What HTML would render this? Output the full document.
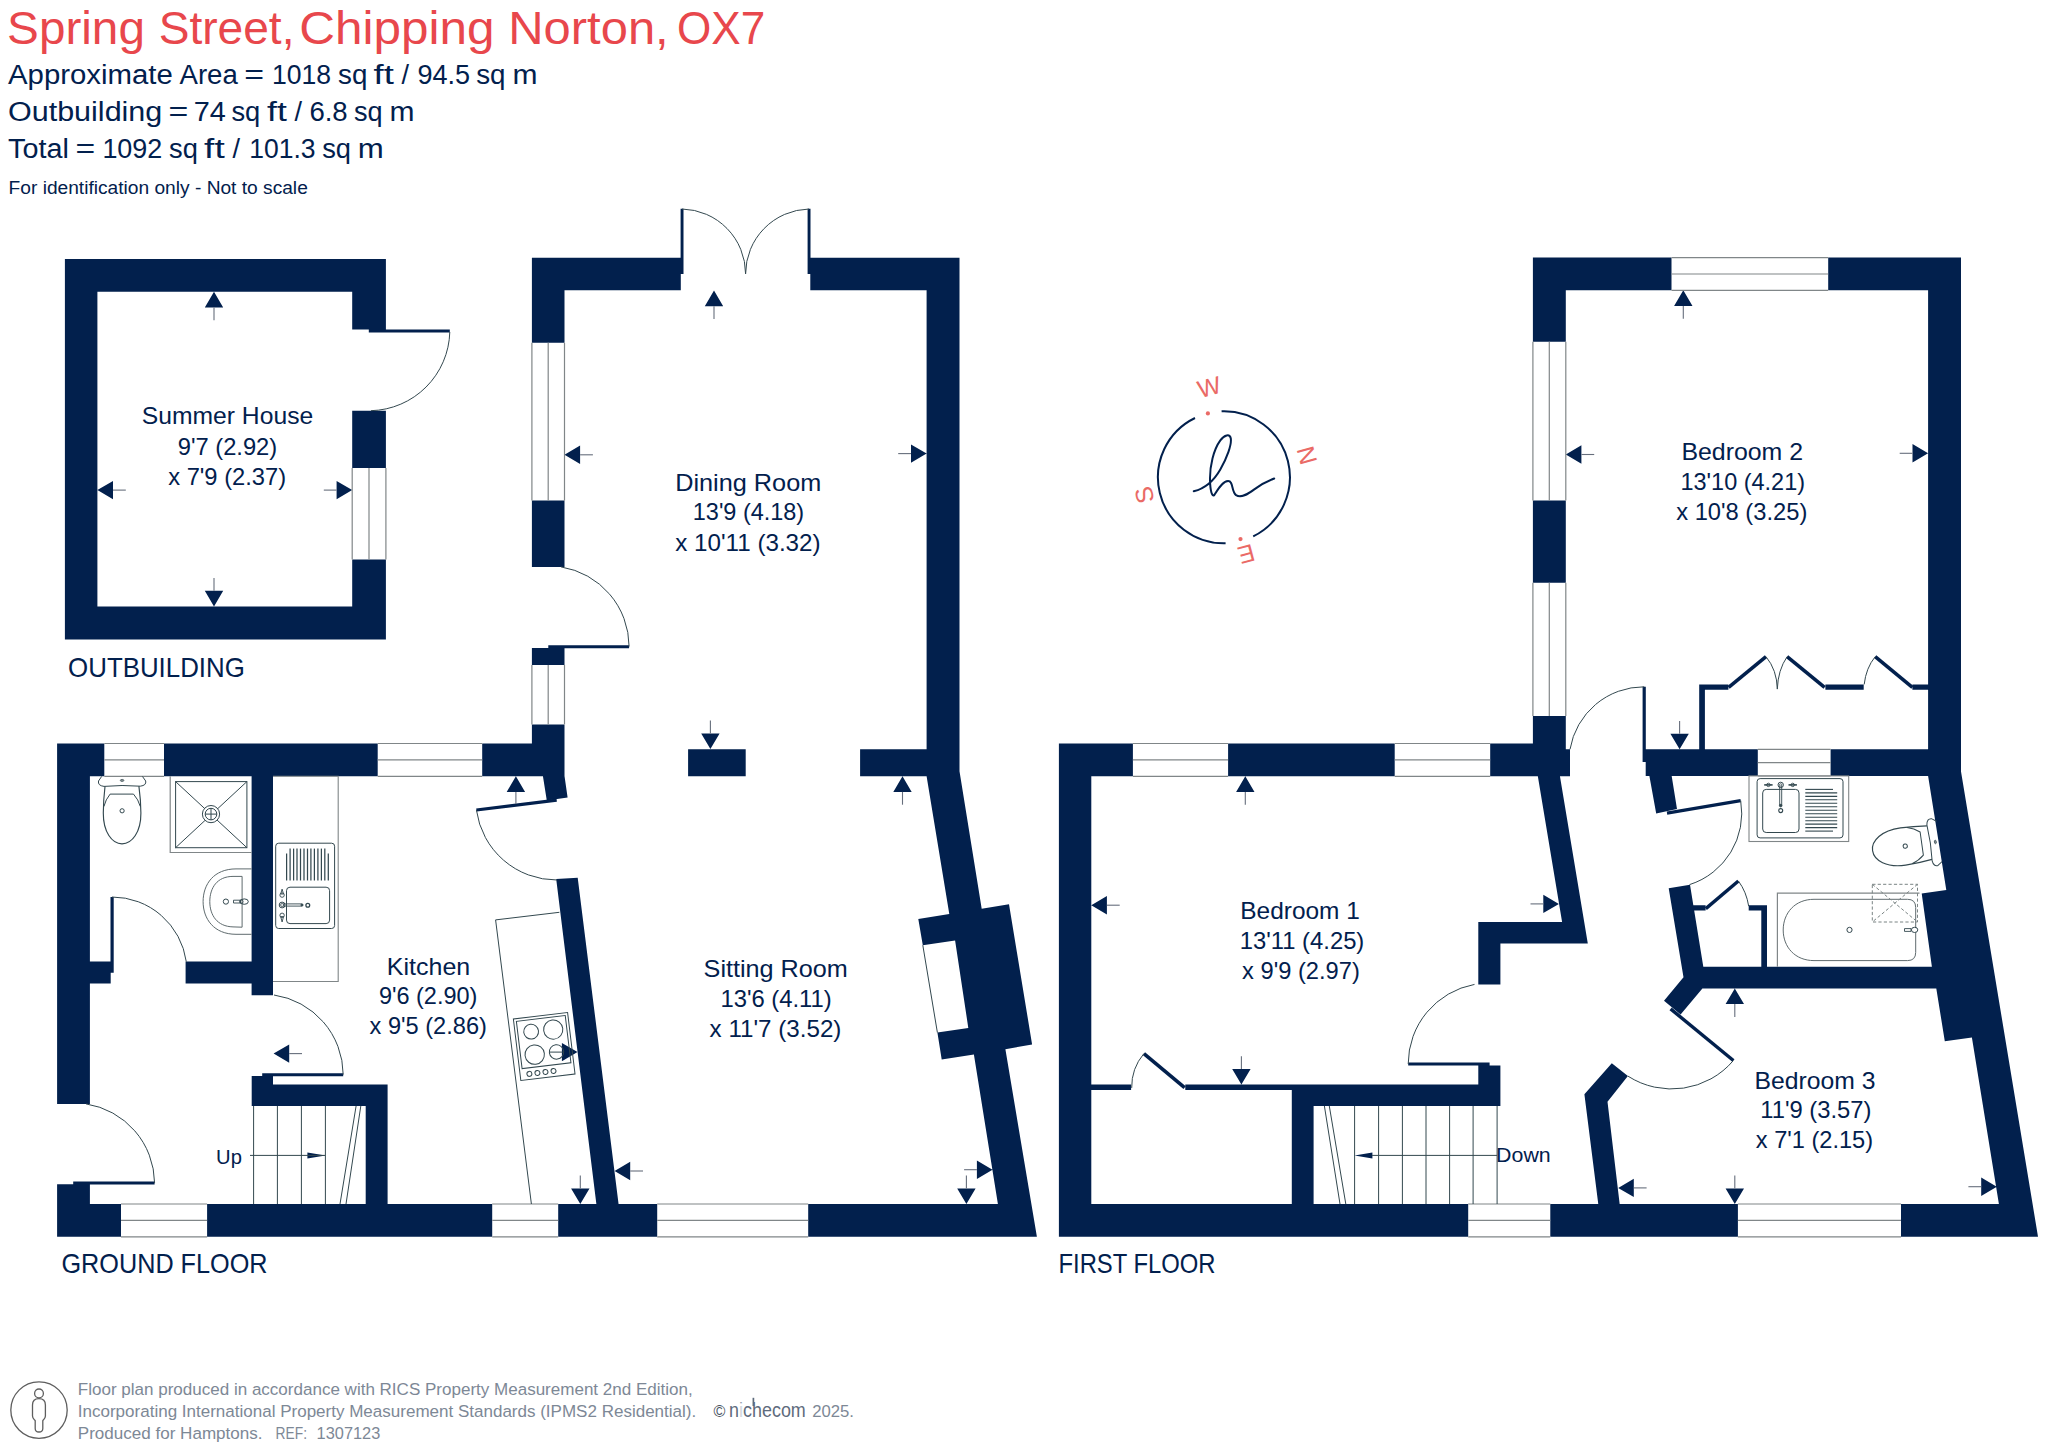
<!DOCTYPE html>
<html lang="en"><head><meta charset="utf-8"><title>Spring Street, Chipping Norton, OX7 - Floor plan</title>
<style>
html,body{margin:0;padding:0;background:#fff;}
body{width:2048px;height:1447px;overflow:hidden;}
svg{display:block;font-family:"Liberation Sans",sans-serif;}
</style></head><body>
<svg width="2048" height="1447" viewBox="0 0 2048 1447">
<rect width="2048" height="1447" fill="#ffffff"/>
<path d="M64.9 259.1L385.9 259.1L385.9 291.8L64.9 291.8ZM64.9 259.1L97.4 259.1L97.4 639.5L64.9 639.5ZM64.9 606.4L385.9 606.4L385.9 639.5L64.9 639.5ZM352.2 259.1L385.9 259.1L385.9 329.6L352.2 329.6ZM352.2 410.7L385.9 410.7L385.9 467.9L352.2 467.9ZM352.2 559.4L385.9 559.4L385.9 639.5L352.2 639.5ZM368.8 329.6L449.8 329.6L449.8 332.6L368.8 332.6ZM223.2 307.4L204.8 307.4L214 291.8ZM214 606.4L204.8 590.8L223.2 590.8ZM97.4 490.1L113 480.9L113 499.3ZM336.6 499.3L336.6 480.9L352.2 490.1ZM531.9 257.7L680.8 257.7L680.8 290.3L531.9 290.3ZM810.3 257.7L959.5 257.7L959.5 290.3L810.3 290.3ZM680.6 208.8L683.5 208.8L683.5 273.9L680.6 273.9ZM807.6 208.8L810.5 208.8L810.5 273.9L807.6 273.9ZM531.9 257.7L564.5 257.7L564.5 342.7L531.9 342.7ZM531.9 500.6L564.5 500.6L564.5 566.9L531.9 566.9ZM548.3 645.2L629.1 645.2L629.1 648.2L548.3 648.2ZM531.9 648L564.5 648L564.5 664.9L531.9 664.9ZM531.9 724.4L564.5 724.4L564.5 776.3L531.9 776.3ZM688.1 749.3L745.7 749.3L745.7 776.2L688.1 776.2ZM710.4 749L701.2 733.4L719.6 733.4ZM723.2 306.2L704.8 306.2L714 290.6ZM564.5 454.8L580.1 445.6L580.1 464ZM911 462.8L911 444.4L926.6 453.6ZM57.1 743.5L104.3 743.5L104.3 776.3L57.1 776.3ZM164 743.5L377.7 743.5L377.7 776.3L164 776.3ZM482.2 743.5L564.5 743.5L564.5 776.3L482.2 776.3ZM542.9 776L564.5 776L567.6 797.6L546.8 800.4ZM556.2 879.1L577.7 877.7L618.6 1204.2L596.4 1204.2ZM57.1 743.5L89.9 743.5L89.9 1103.9L57.1 1103.9ZM57.1 1184.3L89.9 1184.3L89.9 1236.8L57.1 1236.8ZM73.2 1181.6L154.6 1181.6L154.6 1184.6L73.2 1184.6ZM57.1 1204L121 1204L121 1236.8L57.1 1236.8ZM207.1 1204L492.2 1204L492.2 1236.8L207.1 1236.8ZM558.2 1204L657.2 1204L657.2 1236.8L558.2 1236.8ZM926.6 257.7L959.5 257.7L959.5 771.3L981.7 908.8L1009 904.3L1032.1 1044.4L1005.4 1049.3L1036.9 1236.8L808.2 1236.8L808.2 1204L997.9 1204L973.9 1054.6L941.7 1059.6L937.4 1032.6L968.3 1027.9L955.1 940.5L922.8 945.2L918.3 919L949.3 914.1L926.6 776.3ZM860.1 749.3L927 749.3L927 776.2L860.1 776.2ZM251.6 776L273 776L273 995.3L251.6 995.3ZM185.6 961.5L251.8 961.5L251.8 983.4L185.6 983.4ZM89.9 961.5L110.7 961.5L110.7 983.4L89.9 983.4ZM110.5 897L113.7 897L113.7 972.7L110.5 972.7ZM251.7 1076L273 1076L273 1106.1L251.7 1106.1ZM251.7 1084.6L387.6 1084.6L387.6 1106.1L251.7 1106.1ZM365.7 1084.6L387.6 1084.6L387.6 1204.2L365.7 1204.2ZM262.2 1073.2L343.2 1073.2L343.2 1076.2L262.2 1076.2ZM307.4 1158.4L307.4 1152.4L325.4 1155.4ZM525.1 791.9L506.7 791.9L515.9 776.3ZM273.6 1053.6L289.2 1044.4L289.2 1062.8ZM580.3 1204L571.1 1188.4L589.5 1188.4ZM614.6 1171L630.2 1161.8L630.2 1180.2ZM561.9 1061.3L561.9 1042.9L577.5 1052.1ZM911.7 791.9L893.3 791.9L902.5 776.3ZM976.9 1178.9L976.9 1160.5L992.5 1169.7ZM966.4 1204L957.2 1188.4L975.6 1188.4ZM1058.9 743.5L1132.9 743.5L1132.9 776.3L1058.9 776.3ZM1228.1 743.5L1394.7 743.5L1394.7 776.3L1228.1 776.3ZM1490.2 743.5L1565.8 743.5L1565.8 776.3L1490.2 776.3ZM1565 749.3L1570 749.3L1570 776.3L1565 776.3ZM1058.9 743.5L1091.3 743.5L1091.3 1236.8L1058.9 1236.8ZM1058.9 1204L1468.2 1204L1468.2 1236.8L1058.9 1236.8ZM1550.3 1204L1737.9 1204L1737.9 1236.8L1550.3 1236.8ZM1532.9 257.6L1671.5 257.6L1671.5 290.3L1532.9 290.3ZM1828.2 257.6L1961 257.6L1961 290.3L1828.2 290.3ZM1532.9 257.6L1565.8 257.6L1565.8 341.7L1532.9 341.7ZM1532.9 500.5L1565.8 500.5L1565.8 582.7L1532.9 582.7ZM1532.9 716.1L1565.8 716.1L1565.8 776.3L1532.9 776.3ZM1928.1 257.6L1961 257.6L1961 771.4L2038 1236.8L1901 1236.8L1901 1204L1998.9 1204L1971.9 1037.5L1944.8 1041.2L1936.3 988.5L1931.9 966.7L1921.7 893.6L1946.3 890L1928.1 776ZM1645.7 749.3L1757.8 749.3L1757.8 776L1645.7 776ZM1830.6 749.3L1929 749.3L1929 776L1830.6 776ZM1642.6 686.8L1645.8 686.8L1645.8 762L1642.6 762ZM1649.3 775.5L1671.6 775.5L1677 809L1656.2 813.6ZM1668.7 888.2L1690 884.7L1703.3 966.7L1932 966.7L1936.4 988.5L1702.4 988.5L1680.6 1014.5L1664 1000.7L1683.5 977.3ZM1537.8 776L1559.9 776L1587.8 943.4L1500.4 943.4L1500.4 984.4L1478.3 984.4L1478.3 921.9L1562.1 921.9ZM1408.2 1062.5L1489.6 1062.5L1489.6 1065.5L1408.2 1065.5ZM1478.3 1065.4L1500.4 1065.4L1500.4 1106.1L1478.3 1106.1ZM1291.8 1084.6L1500.4 1084.6L1500.4 1106.1L1291.8 1106.1ZM1291.8 1084.6L1313.6 1084.6L1313.6 1204.2L1291.8 1204.2ZM1091 1084.6L1131.1 1084.6L1131.1 1090L1091 1090ZM1185.3 1084.6L1292 1084.6L1292 1090L1185.3 1090ZM1354.6 1155.4L1372.4 1152.4L1372.4 1158.4ZM1611.8 1063.2L1627.9 1076.1L1607.5 1101.8L1619.7 1204.2L1598.3 1204.2L1584.4 1094.3ZM1699.2 684.4L1704.9 684.4L1704.9 749.5L1699.2 749.5ZM1699.2 684.4L1728.4 684.4L1728.4 689.8L1699.2 689.8ZM1825.4 684.4L1863.7 684.4L1863.7 689.8L1825.4 689.8ZM1912.4 684.4L1928.5 684.4L1928.5 689.8L1912.4 689.8ZM1693 905.3L1705.6 905.3L1705.6 910.4L1693 910.4ZM1748.7 905.3L1767 905.3L1767 910.4L1748.7 910.4ZM1761.3 905.3L1767 905.3L1767 966.8L1761.3 966.8ZM1254.5 791.9L1236.1 791.9L1245.3 776.3ZM1091.3 905.2L1106.9 896L1106.9 914.4ZM1543.3 913.1L1543.3 894.7L1558.9 903.9ZM1241.4 1084.6L1232.2 1069L1250.6 1069ZM1692.5 305.9L1674.1 305.9L1683.3 290.3ZM1565.8 454.5L1581.4 445.3L1581.4 463.7ZM1912.5 462.5L1912.5 444.1L1928.1 453.3ZM1679.6 749.3L1670.4 733.7L1688.8 733.7ZM1744 1004.1L1725.6 1004.1L1734.8 988.5ZM1734.8 1204L1725.6 1188.4L1744 1188.4ZM1981.2 1195.9L1981.2 1177.5L1996.8 1186.7ZM1618.2 1187.9L1633.8 1178.7L1633.8 1197.1Z" fill="#02204d" fill-rule="nonzero"/>
<text y="43.8" font-size="46" fill="#e8474c"><tspan x="7.1" textLength="137.8" lengthAdjust="spacingAndGlyphs">Spring</tspan> <tspan x="158.7" textLength="135.8" lengthAdjust="spacingAndGlyphs">Street,</tspan> <tspan x="299.3" textLength="195.2" lengthAdjust="spacingAndGlyphs">Chipping</tspan> <tspan x="508.3" textLength="160.4" lengthAdjust="spacingAndGlyphs">Norton,</tspan> <tspan x="677" textLength="88.2" lengthAdjust="spacingAndGlyphs">OX7</tspan></text>
<text y="84.2" font-size="27" fill="#02204d"><tspan x="8" textLength="164.7" lengthAdjust="spacingAndGlyphs">Approximate</tspan> <tspan x="179.5" textLength="58.3" lengthAdjust="spacingAndGlyphs">Area</tspan> <tspan x="244.3" textLength="19.8" lengthAdjust="spacingAndGlyphs">=</tspan> <tspan x="271.9" textLength="59.1" lengthAdjust="spacingAndGlyphs">1018</tspan> <tspan x="338.1" textLength="29.3" lengthAdjust="spacingAndGlyphs">sq</tspan> <tspan x="373.6" textLength="20.3" lengthAdjust="spacingAndGlyphs">ft</tspan> <tspan x="401.6">/</tspan> <tspan x="417.4" textLength="52.6" lengthAdjust="spacingAndGlyphs">94.5</tspan> <tspan x="476.2" textLength="29.3" lengthAdjust="spacingAndGlyphs">sq</tspan> <tspan x="512.5" textLength="25" lengthAdjust="spacingAndGlyphs">m</tspan></text>
<text y="120.9" font-size="27" fill="#02204d"><tspan x="8" textLength="154.3" lengthAdjust="spacingAndGlyphs">Outbuilding</tspan> <tspan x="168.5" textLength="19.8" lengthAdjust="spacingAndGlyphs">=</tspan> <tspan x="193.7" textLength="32.1" lengthAdjust="spacingAndGlyphs">74</tspan> <tspan x="231.4" textLength="28.8" lengthAdjust="spacingAndGlyphs">sq</tspan> <tspan x="267" textLength="19.8" lengthAdjust="spacingAndGlyphs">ft</tspan> <tspan x="294.6">/</tspan> <tspan x="309.4" textLength="38.3" lengthAdjust="spacingAndGlyphs">6.8</tspan> <tspan x="353.9" textLength="28.6" lengthAdjust="spacingAndGlyphs">sq</tspan> <tspan x="389.5" textLength="25" lengthAdjust="spacingAndGlyphs">m</tspan></text>
<text y="157.5" font-size="27" fill="#02204d"><tspan x="8" textLength="60.8" lengthAdjust="spacingAndGlyphs">Total</tspan> <tspan x="75.6" textLength="19.7" lengthAdjust="spacingAndGlyphs">=</tspan> <tspan x="102.4" textLength="59.9" lengthAdjust="spacingAndGlyphs">1092</tspan> <tspan x="169.1" textLength="28.8" lengthAdjust="spacingAndGlyphs">sq</tspan> <tspan x="204.1" textLength="20.6" lengthAdjust="spacingAndGlyphs">ft</tspan> <tspan x="232.5">/</tspan> <tspan x="249.2" textLength="66.3" lengthAdjust="spacingAndGlyphs">101.3</tspan> <tspan x="322.2" textLength="28.8" lengthAdjust="spacingAndGlyphs">sq</tspan> <tspan x="357.8" textLength="26" lengthAdjust="spacingAndGlyphs">m</tspan></text>
<text x="8.6" y="193.5" font-size="18.3" text-anchor="start" fill="#02204d" textLength="299.2" lengthAdjust="spacingAndGlyphs">For identification only - Not to scale</text>
<line x1="352.2" y1="467.9" x2="352.2" y2="559.4" stroke="#808688" stroke-width="1.2"/>
<line x1="369" y1="467.9" x2="369" y2="559.4" stroke="#808688" stroke-width="1.2"/>
<line x1="385.9" y1="467.9" x2="385.9" y2="559.4" stroke="#808688" stroke-width="1.2"/>
<path d="M449.8 332A81 81 0 0 1 371 410.7" fill="none" stroke="#33484f" stroke-width="1"/>
<line x1="214" y1="307.4" x2="214" y2="320.2" stroke="#666e7c" stroke-width="1.1"/>
<line x1="214" y1="590.8" x2="214" y2="578" stroke="#666e7c" stroke-width="1.1"/>
<line x1="113" y1="490.1" x2="125.8" y2="490.1" stroke="#666e7c" stroke-width="1.1"/>
<line x1="336.6" y1="490.1" x2="323.8" y2="490.1" stroke="#666e7c" stroke-width="1.1"/>
<text x="141.8" y="424.3" font-size="23.4" text-anchor="start" fill="#02204d" textLength="171.4" lengthAdjust="spacingAndGlyphs">Summer House</text>
<text x="177.8" y="454.8" font-size="23.4" text-anchor="start" fill="#02204d" textLength="99.4" lengthAdjust="spacingAndGlyphs">9'7 (2.92)</text>
<text x="168.2" y="485.3" font-size="23.4" text-anchor="start" fill="#02204d" textLength="117.9" lengthAdjust="spacingAndGlyphs">x 7'9 (2.37)</text>
<text x="68.1" y="677" font-size="27.5" text-anchor="start" fill="#02204d" textLength="176.7" lengthAdjust="spacingAndGlyphs">OUTBUILDING</text>
<path d="M682 209A65 65 0 0 1 745.6 273.9" fill="none" stroke="#33484f" stroke-width="1"/>
<path d="M809 209A65 65 0 0 0 745.6 273.9" fill="none" stroke="#33484f" stroke-width="1"/>
<line x1="531.9" y1="342.7" x2="531.9" y2="500.6" stroke="#808688" stroke-width="1.2"/>
<line x1="548.2" y1="342.7" x2="548.2" y2="500.6" stroke="#808688" stroke-width="1.2"/>
<line x1="564.5" y1="342.7" x2="564.5" y2="500.6" stroke="#808688" stroke-width="1.2"/>
<path d="M629.1 646.5A81 81 0 0 0 561 566.9" fill="none" stroke="#33484f" stroke-width="1"/>
<line x1="531.9" y1="664.9" x2="531.9" y2="724.4" stroke="#808688" stroke-width="1.2"/>
<line x1="548.2" y1="664.9" x2="548.2" y2="724.4" stroke="#808688" stroke-width="1.2"/>
<line x1="564.5" y1="664.9" x2="564.5" y2="724.4" stroke="#808688" stroke-width="1.2"/>
<line x1="710.4" y1="733.4" x2="710.4" y2="720.6" stroke="#666e7c" stroke-width="1.1"/>
<line x1="714" y1="306.2" x2="714" y2="319" stroke="#666e7c" stroke-width="1.1"/>
<line x1="580.1" y1="454.8" x2="592.9" y2="454.8" stroke="#666e7c" stroke-width="1.1"/>
<line x1="911" y1="453.6" x2="898.2" y2="453.6" stroke="#666e7c" stroke-width="1.1"/>
<text x="675.2" y="490.8" font-size="23.4" text-anchor="start" fill="#02204d" textLength="146.1" lengthAdjust="spacingAndGlyphs">Dining Room</text>
<text x="692.8" y="520.4" font-size="23.4" text-anchor="start" fill="#02204d" textLength="111.4" lengthAdjust="spacingAndGlyphs">13'9 (4.18)</text>
<text x="675.2" y="550.5" font-size="23.4" text-anchor="start" fill="#02204d" textLength="145.4" lengthAdjust="spacingAndGlyphs">x 10'11 (3.32)</text>
<line x1="104.3" y1="743.5" x2="164" y2="743.5" stroke="#808688" stroke-width="1.2"/>
<line x1="104.3" y1="759.9" x2="164" y2="759.9" stroke="#808688" stroke-width="1.2"/>
<line x1="104.3" y1="776.3" x2="164" y2="776.3" stroke="#808688" stroke-width="1.2"/>
<line x1="377.7" y1="743.5" x2="482.2" y2="743.5" stroke="#808688" stroke-width="1.2"/>
<line x1="377.7" y1="759.9" x2="482.2" y2="759.9" stroke="#808688" stroke-width="1.2"/>
<line x1="377.7" y1="776.3" x2="482.2" y2="776.3" stroke="#808688" stroke-width="1.2"/>
<line x1="556.7" y1="800.2" x2="476.4" y2="810" stroke="#02204d" stroke-width="3.2"/>
<path d="M476.4 810A81 81 0 0 0 557 880" fill="none" stroke="#33484f" stroke-width="1"/>
<path d="M154.6 1183A81 81 0 0 0 86 1103.9" fill="none" stroke="#33484f" stroke-width="1"/>
<line x1="121" y1="1204" x2="207.1" y2="1204" stroke="#808688" stroke-width="1.2"/>
<line x1="121" y1="1220.4" x2="207.1" y2="1220.4" stroke="#808688" stroke-width="1.2"/>
<line x1="121" y1="1236.8" x2="207.1" y2="1236.8" stroke="#808688" stroke-width="1.2"/>
<line x1="492.2" y1="1204" x2="558.2" y2="1204" stroke="#808688" stroke-width="1.2"/>
<line x1="492.2" y1="1220.4" x2="558.2" y2="1220.4" stroke="#808688" stroke-width="1.2"/>
<line x1="492.2" y1="1236.8" x2="558.2" y2="1236.8" stroke="#808688" stroke-width="1.2"/>
<line x1="657.2" y1="1204" x2="808.2" y2="1204" stroke="#808688" stroke-width="1.2"/>
<line x1="657.2" y1="1220.4" x2="808.2" y2="1220.4" stroke="#808688" stroke-width="1.2"/>
<line x1="657.2" y1="1236.8" x2="808.2" y2="1236.8" stroke="#808688" stroke-width="1.2"/>
<line x1="922.8" y1="945.2" x2="937.4" y2="1032.6" stroke="#33484f" stroke-width="1"/>
<path d="M112 897A75 75 0 0 1 186.3 961.7" fill="none" stroke="#33484f" stroke-width="1"/>
<path d="M343.2 1074.6A81 81 0 0 0 274 995" fill="none" stroke="#33484f" stroke-width="1"/>
<line x1="253.6" y1="1106" x2="253.6" y2="1204" stroke="#33484f" stroke-width="1"/>
<line x1="277.4" y1="1106" x2="277.4" y2="1204" stroke="#33484f" stroke-width="1"/>
<line x1="301.4" y1="1106" x2="301.4" y2="1204" stroke="#33484f" stroke-width="1"/>
<line x1="325.4" y1="1106" x2="325.4" y2="1204" stroke="#33484f" stroke-width="1"/>
<line x1="356.1" y1="1106" x2="340" y2="1204" stroke="#33484f" stroke-width="1"/>
<line x1="360.8" y1="1106" x2="346" y2="1204" stroke="#33484f" stroke-width="1"/>
<line x1="250" y1="1155.4" x2="325" y2="1155.4" stroke="#33484f" stroke-width="1"/>
<text x="216.1" y="1163.9" font-size="21" text-anchor="start" fill="#02204d" textLength="25.8" lengthAdjust="spacingAndGlyphs">Up</text>
<path d="M273 776.3H338.2V981.5H273" fill="none" stroke="#808688" stroke-width="1.1"/>
<path d="M559.4 912.3L495.6 919.9L531.4 1204" fill="none" stroke="#33484f" stroke-width="1"/>
<line x1="515.9" y1="791.9" x2="515.9" y2="803.9" stroke="#666e7c" stroke-width="1.1"/>
<line x1="289.2" y1="1053.6" x2="302" y2="1053.6" stroke="#666e7c" stroke-width="1.1"/>
<line x1="580.3" y1="1188.4" x2="580.3" y2="1175.6" stroke="#666e7c" stroke-width="1.1"/>
<line x1="630.2" y1="1171" x2="643" y2="1171" stroke="#666e7c" stroke-width="1.1"/>
<line x1="549.6" y1="1052.1" x2="563" y2="1052.1" stroke="#33484f" stroke-width="1"/>
<line x1="902.5" y1="791.9" x2="902.5" y2="804.7" stroke="#666e7c" stroke-width="1.1"/>
<line x1="976.9" y1="1169.7" x2="964.1" y2="1169.7" stroke="#666e7c" stroke-width="1.1"/>
<line x1="966.4" y1="1188.4" x2="966.4" y2="1175.6" stroke="#666e7c" stroke-width="1.1"/>
<text x="386.8" y="974.5" font-size="23.4" text-anchor="start" fill="#02204d" textLength="83.4" lengthAdjust="spacingAndGlyphs">Kitchen</text>
<text x="378.9" y="1004.3" font-size="23.4" text-anchor="start" fill="#02204d" textLength="98.5" lengthAdjust="spacingAndGlyphs">9'6 (2.90)</text>
<text x="369.6" y="1034.3" font-size="23.4" text-anchor="start" fill="#02204d" textLength="117.3" lengthAdjust="spacingAndGlyphs">x 9'5 (2.86)</text>
<text x="703.6" y="976.7" font-size="23.4" text-anchor="start" fill="#02204d" textLength="144.2" lengthAdjust="spacingAndGlyphs">Sitting Room</text>
<text x="720.4" y="1006.9" font-size="23.4" text-anchor="start" fill="#02204d" textLength="111.4" lengthAdjust="spacingAndGlyphs">13'6 (4.11)</text>
<text x="709.6" y="1036.9" font-size="23.4" text-anchor="start" fill="#02204d" textLength="131.8" lengthAdjust="spacingAndGlyphs">x 11'7 (3.52)</text>
<text x="61.5" y="1273" font-size="27.5" text-anchor="start" fill="#02204d" textLength="206" lengthAdjust="spacingAndGlyphs">GROUND FLOOR</text>
<line x1="1132.9" y1="743.5" x2="1228.1" y2="743.5" stroke="#808688" stroke-width="1.2"/>
<line x1="1132.9" y1="759.9" x2="1228.1" y2="759.9" stroke="#808688" stroke-width="1.2"/>
<line x1="1132.9" y1="776.3" x2="1228.1" y2="776.3" stroke="#808688" stroke-width="1.2"/>
<line x1="1394.7" y1="743.5" x2="1490.2" y2="743.5" stroke="#808688" stroke-width="1.2"/>
<line x1="1394.7" y1="759.9" x2="1490.2" y2="759.9" stroke="#808688" stroke-width="1.2"/>
<line x1="1394.7" y1="776.3" x2="1490.2" y2="776.3" stroke="#808688" stroke-width="1.2"/>
<line x1="1468.2" y1="1204" x2="1550.3" y2="1204" stroke="#808688" stroke-width="1.2"/>
<line x1="1468.2" y1="1220.4" x2="1550.3" y2="1220.4" stroke="#808688" stroke-width="1.2"/>
<line x1="1468.2" y1="1236.8" x2="1550.3" y2="1236.8" stroke="#808688" stroke-width="1.2"/>
<line x1="1737.9" y1="1204" x2="1901" y2="1204" stroke="#808688" stroke-width="1.2"/>
<line x1="1737.9" y1="1220.4" x2="1901" y2="1220.4" stroke="#808688" stroke-width="1.2"/>
<line x1="1737.9" y1="1236.8" x2="1901" y2="1236.8" stroke="#808688" stroke-width="1.2"/>
<line x1="1671.5" y1="257.6" x2="1828.2" y2="257.6" stroke="#808688" stroke-width="1.2"/>
<line x1="1671.5" y1="274" x2="1828.2" y2="274" stroke="#808688" stroke-width="1.2"/>
<line x1="1671.5" y1="290.3" x2="1828.2" y2="290.3" stroke="#808688" stroke-width="1.2"/>
<line x1="1532.9" y1="341.7" x2="1532.9" y2="500.5" stroke="#808688" stroke-width="1.2"/>
<line x1="1549.3" y1="341.7" x2="1549.3" y2="500.5" stroke="#808688" stroke-width="1.2"/>
<line x1="1565.8" y1="341.7" x2="1565.8" y2="500.5" stroke="#808688" stroke-width="1.2"/>
<line x1="1532.9" y1="582.7" x2="1532.9" y2="716.1" stroke="#808688" stroke-width="1.2"/>
<line x1="1549.3" y1="582.7" x2="1549.3" y2="716.1" stroke="#808688" stroke-width="1.2"/>
<line x1="1565.8" y1="582.7" x2="1565.8" y2="716.1" stroke="#808688" stroke-width="1.2"/>
<line x1="1757.8" y1="749.3" x2="1830.6" y2="749.3" stroke="#808688" stroke-width="1.2"/>
<line x1="1757.8" y1="762.6" x2="1830.6" y2="762.6" stroke="#808688" stroke-width="1.2"/>
<line x1="1757.8" y1="776" x2="1830.6" y2="776" stroke="#808688" stroke-width="1.2"/>
<path d="M1644.2 686.8A75 75 0 0 0 1570 749.3" fill="none" stroke="#33484f" stroke-width="1"/>
<line x1="1667" y1="813.2" x2="1740.7" y2="800.6" stroke="#02204d" stroke-width="3.2"/>
<path d="M1740.7 800.6A75 75 0 0 1 1689.6 884.6" fill="none" stroke="#33484f" stroke-width="1"/>
<path d="M1408.2 1064A81 81 0 0 1 1474.5 984.4" fill="none" stroke="#33484f" stroke-width="1"/>
<line x1="1143.9" y1="1053.6" x2="1184.6" y2="1087.6" stroke="#02204d" stroke-width="3.6"/>
<path d="M1143.9 1053.6A51.8 51.8 0 0 0 1131.7 1087.9" fill="none" stroke="#33484f" stroke-width="1"/>
<line x1="1354.6" y1="1106" x2="1354.6" y2="1204" stroke="#33484f" stroke-width="1"/>
<line x1="1378.6" y1="1106" x2="1378.6" y2="1204" stroke="#33484f" stroke-width="1"/>
<line x1="1402.4" y1="1106" x2="1402.4" y2="1204" stroke="#33484f" stroke-width="1"/>
<line x1="1426" y1="1106" x2="1426" y2="1204" stroke="#33484f" stroke-width="1"/>
<line x1="1449.6" y1="1106" x2="1449.6" y2="1204" stroke="#33484f" stroke-width="1"/>
<line x1="1473.1" y1="1106" x2="1473.1" y2="1204" stroke="#33484f" stroke-width="1"/>
<line x1="1497.1" y1="1106" x2="1497.1" y2="1204" stroke="#33484f" stroke-width="1"/>
<line x1="1324.4" y1="1106" x2="1340" y2="1204" stroke="#33484f" stroke-width="1"/>
<line x1="1329.3" y1="1106" x2="1345.8" y2="1204" stroke="#33484f" stroke-width="1"/>
<line x1="1372" y1="1155.4" x2="1497.1" y2="1155.4" stroke="#33484f" stroke-width="1"/>
<text x="1496.1" y="1161.8" font-size="21" text-anchor="start" fill="#02204d" textLength="54.6" lengthAdjust="spacingAndGlyphs">Down</text>
<line x1="1670.6" y1="1008.9" x2="1733.4" y2="1060.5" stroke="#02204d" stroke-width="3.4"/>
<path d="M1733.4 1060.5A81 81 0 0 1 1627.9 1076.1" fill="none" stroke="#33484f" stroke-width="1"/>
<line x1="1728.6" y1="687.4" x2="1766" y2="656.7" stroke="#02204d" stroke-width="3.6"/>
<line x1="1787.1" y1="656.7" x2="1824.6" y2="687.4" stroke="#02204d" stroke-width="3.6"/>
<path d="M1766 656.7Q1777 670 1777.3 689.1" fill="none" stroke="#33484f" stroke-width="1"/>
<path d="M1787.1 656.7Q1778 670 1777.3 689.1" fill="none" stroke="#33484f" stroke-width="1"/>
<line x1="1875.2" y1="656.7" x2="1912.4" y2="687.4" stroke="#02204d" stroke-width="3.6"/>
<path d="M1875.2 656.7Q1866 668 1864.2 684.4" fill="none" stroke="#33484f" stroke-width="1"/>
<line x1="1705.8" y1="908.6" x2="1738.4" y2="881" stroke="#02204d" stroke-width="3.4"/>
<path d="M1738.4 881Q1746.5 892 1748.7 906.2" fill="none" stroke="#33484f" stroke-width="1"/>
<line x1="1245.3" y1="791.9" x2="1245.3" y2="804.7" stroke="#666e7c" stroke-width="1.1"/>
<line x1="1106.9" y1="905.2" x2="1119.7" y2="905.2" stroke="#666e7c" stroke-width="1.1"/>
<line x1="1543.3" y1="903.9" x2="1530.5" y2="903.9" stroke="#666e7c" stroke-width="1.1"/>
<line x1="1241.4" y1="1069" x2="1241.4" y2="1056.2" stroke="#666e7c" stroke-width="1.1"/>
<line x1="1683.3" y1="305.9" x2="1683.3" y2="318.7" stroke="#666e7c" stroke-width="1.1"/>
<line x1="1581.4" y1="454.5" x2="1594.2" y2="454.5" stroke="#666e7c" stroke-width="1.1"/>
<line x1="1912.5" y1="453.3" x2="1899.7" y2="453.3" stroke="#666e7c" stroke-width="1.1"/>
<line x1="1679.6" y1="733.7" x2="1679.6" y2="720.9" stroke="#666e7c" stroke-width="1.1"/>
<line x1="1734.8" y1="1004.1" x2="1734.8" y2="1016.9" stroke="#666e7c" stroke-width="1.1"/>
<line x1="1734.8" y1="1188.4" x2="1734.8" y2="1175.6" stroke="#666e7c" stroke-width="1.1"/>
<line x1="1981.2" y1="1186.7" x2="1968.4" y2="1186.7" stroke="#666e7c" stroke-width="1.1"/>
<line x1="1633.8" y1="1187.9" x2="1646.6" y2="1187.9" stroke="#666e7c" stroke-width="1.1"/>
<text x="1240.3" y="918.6" font-size="23.4" text-anchor="start" fill="#02204d" textLength="119.5" lengthAdjust="spacingAndGlyphs">Bedroom 1</text>
<text x="1239.8" y="948.5" font-size="23.4" text-anchor="start" fill="#02204d" textLength="124.5" lengthAdjust="spacingAndGlyphs">13'11 (4.25)</text>
<text x="1242.1" y="978.8" font-size="23.4" text-anchor="start" fill="#02204d" textLength="117.7" lengthAdjust="spacingAndGlyphs">x 9'9 (2.97)</text>
<text x="1681.4" y="460.4" font-size="23.4" text-anchor="start" fill="#02204d" textLength="121.7" lengthAdjust="spacingAndGlyphs">Bedroom 2</text>
<text x="1680.5" y="490.2" font-size="23.4" text-anchor="start" fill="#02204d" textLength="124.5" lengthAdjust="spacingAndGlyphs">13'10 (4.21)</text>
<text x="1676.2" y="520.1" font-size="23.4" text-anchor="start" fill="#02204d" textLength="131.1" lengthAdjust="spacingAndGlyphs">x 10'8 (3.25)</text>
<text x="1754.6" y="1088.5" font-size="23.4" text-anchor="start" fill="#02204d" textLength="120.9" lengthAdjust="spacingAndGlyphs">Bedroom 3</text>
<text x="1760.3" y="1118" font-size="23.4" text-anchor="start" fill="#02204d" textLength="111.1" lengthAdjust="spacingAndGlyphs">11'9 (3.57)</text>
<text x="1755.8" y="1148" font-size="23.4" text-anchor="start" fill="#02204d" textLength="117.3" lengthAdjust="spacingAndGlyphs">x 7'1 (2.15)</text>
<text x="1058.5" y="1273" font-size="27.5" text-anchor="start" fill="#02204d" textLength="157" lengthAdjust="spacingAndGlyphs">FIRST FLOOR</text>
<path d="M1221.6 411.3A66 66 0 0 1 1253.2 536.4" fill="none" stroke="#02204d" stroke-width="2"/>
<path d="M1225.6 543.3A66 66 0 0 1 1195 418" fill="none" stroke="#02204d" stroke-width="2"/>
<circle cx="1207.9" cy="413.4" r="2.1" fill="#ea6a66" stroke="none" stroke-width="1"/>
<circle cx="1240.5" cy="539.1" r="2.1" fill="#ea6a66" stroke="none" stroke-width="1"/>
<text transform="translate(1209.2 386.8) rotate(-15)" x="0" y="8.8" font-size="24.5" text-anchor="middle" fill="#ea6a66">W</text>
<text transform="translate(1307.4 455.3) rotate(75)" x="0" y="8.8" font-size="24.5" text-anchor="middle" fill="#ea6a66">N</text>
<text transform="translate(1144 495.1) rotate(255)" x="0" y="8.8" font-size="24.5" text-anchor="middle" fill="#ea6a66">S</text>
<text transform="translate(1246.3 554.3) rotate(165)" x="0" y="8.8" font-size="24.5" text-anchor="middle" fill="#ea6a66">E</text>
<g transform="translate(1110 350) scale(0.16587)">
<path d="M505 852C570 835 625 790 665 720C705 650 735 570 728 532C722 505 690 510 665 545C625 600 600 700 603 790C605 850 615 885 628 875C650 840 680 790 712 790C745 790 730 850 760 875C790 895 830 870 870 840C910 810 950 790 990 775" fill="none" stroke="#02204d" stroke-width="12" stroke-linecap="round" stroke-linejoin="round"/>
</g>
<circle cx="39" cy="1410.1" r="28.2" fill="none" stroke="#5e5e5e" stroke-width="1.3"/>
<circle cx="39" cy="1393.4" r="4.4" fill="none" stroke="#5e5e5e" stroke-width="1.3"/>
<path d="M38.96 1398.6C34.5 1398.6 32.5 1401 32.5 1405V1416C32.5 1418.5 33.5 1419 35.2 1420.6V1428.5C35.2 1431 36.5 1432 38.96 1432C41.4 1432 42.8 1431 42.8 1428.5V1420.6C44.5 1419 45.4 1418.5 45.4 1416V1405C45.4 1401 43.4 1398.6 38.96 1398.6Z" fill="none" stroke="#5e5e5e" stroke-width="1.3"/>
<text x="77.8" y="1394.5" font-size="16.8" text-anchor="start" fill="#7d8896" textLength="614.9" lengthAdjust="spacingAndGlyphs">Floor plan produced in accordance with RICS Property Measurement 2nd Edition,</text>
<text x="77.8" y="1416.5" font-size="16.8" text-anchor="start" fill="#7d8896" textLength="618.4" lengthAdjust="spacingAndGlyphs">Incorporating International Property Measurement Standards (IPMS2 Residential).</text>
<text x="77.8" y="1438.5" font-size="16.8" text-anchor="start" fill="#7d8896" textLength="184.7" lengthAdjust="spacingAndGlyphs">Produced for Hamptons.</text>
<text x="275.6" y="1438.5" font-size="16.8" text-anchor="start" fill="#7d8896" textLength="31.4" lengthAdjust="spacingAndGlyphs">REF:</text>
<text x="316.6" y="1438.5" font-size="16.8" text-anchor="start" fill="#7d8896" textLength="63.7" lengthAdjust="spacingAndGlyphs">1307123</text>
<path d="M101.7 776.4L98.5 781Q97.6 785.6 104 786.4Q122 784.7 140.3 786.2Q146.6 785.4 145.7 781L142.4 776.4" fill="none" stroke="#33484f" stroke-width="1"/>
<path d="M105 786.5Q103.4 800 103.3 813C103.2 832 112 843.8 122 843.8C132.2 843.8 141 832 140.9 813Q140.8 800 138.9 786.2" fill="none" stroke="#33484f" stroke-width="1.15"/>
<path d="M103.9 806.5Q105.6 799.5 110.1 794.1H133.5Q138.4 799.5 140.3 806.5" fill="none" stroke="#33484f" stroke-width="1"/>
<circle cx="122.1" cy="810.8" r="2.1" fill="none" stroke="#33484f" stroke-width="1"/>
<ellipse cx="122.1" cy="780.4" rx="1.8" ry="1" fill="#8a9496" stroke="#33484f" stroke-width="0.7"/>
<path d="M251.6 852.5H170.2V776.3" fill="none" stroke="#808688" stroke-width="1.2"/>
<rect x="175.6" y="781.6" width="71.3" height="66.1" fill="none" stroke="#33484f" stroke-width="1"/>
<line x1="175.6" y1="781.6" x2="246.9" y2="847.7" stroke="#33484f" stroke-width="1"/>
<line x1="246.9" y1="781.6" x2="175.6" y2="847.7" stroke="#33484f" stroke-width="1"/>
<circle cx="211" cy="814.1" r="8.6" fill="#fff" stroke="#33484f" stroke-width="1"/>
<circle cx="211" cy="814.1" r="5.8" fill="none" stroke="#33484f" stroke-width="1"/>
<line x1="205.2" y1="814.1" x2="216.8" y2="814.1" stroke="#33484f" stroke-width="1"/>
<line x1="211" y1="808.3" x2="211" y2="819.9" stroke="#33484f" stroke-width="1"/>
<path d="M251.6 868.9H236C214 868.9 203.1 884 203.1 901.6C203.1 919 214 934.3 236 934.3H251.6" fill="none" stroke="#5f6b6e" stroke-width="1"/>
<path d="M242.1 876.4H233C217 876.4 209.8 888 209.8 901.6C209.8 915 217 926.5 233 926.9L242.1 927.2Z" fill="none" stroke="#5f6b6e" stroke-width="1"/>
<circle cx="225.9" cy="901.6" r="2.6" fill="none" stroke="#33484f" stroke-width="1"/>
<path d="M233.5 900.2H240.5V903H233.5Z" fill="none" stroke="#33484f" stroke-width="0.9"/>
<ellipse cx="244.3" cy="901.6" rx="4" ry="2.7" fill="none" stroke="#33484f" stroke-width="1"/>
<circle cx="241.3" cy="901.6" r="1.8" fill="none" stroke="#33484f" stroke-width="0.9"/>
<rect x="275.7" y="843.2" width="58.9" height="85.3" rx="3" fill="none" stroke="#33484f" stroke-width="1"/>
<rect x="286.5" y="887.2" width="43.1" height="36.4" rx="3.5" fill="none" stroke="#33484f" stroke-width="1"/>
<line x1="286.6" y1="853.5" x2="286.6" y2="880.5" stroke="#33484f" stroke-width="1.25"/>
<line x1="290.1" y1="848.6" x2="290.1" y2="880.5" stroke="#33484f" stroke-width="1.25"/>
<line x1="293.6" y1="848.6" x2="293.6" y2="880.5" stroke="#33484f" stroke-width="1.25"/>
<line x1="297" y1="848.6" x2="297" y2="880.5" stroke="#33484f" stroke-width="1.25"/>
<line x1="300.5" y1="848.6" x2="300.5" y2="880.5" stroke="#33484f" stroke-width="1.25"/>
<line x1="304" y1="848.6" x2="304" y2="880.5" stroke="#33484f" stroke-width="1.25"/>
<line x1="307.5" y1="848.6" x2="307.5" y2="880.5" stroke="#33484f" stroke-width="1.25"/>
<line x1="310.9" y1="848.6" x2="310.9" y2="880.5" stroke="#33484f" stroke-width="1.25"/>
<line x1="314.4" y1="848.6" x2="314.4" y2="880.5" stroke="#33484f" stroke-width="1.25"/>
<line x1="317.9" y1="848.6" x2="317.9" y2="880.5" stroke="#33484f" stroke-width="1.25"/>
<line x1="321.4" y1="848.6" x2="321.4" y2="880.5" stroke="#33484f" stroke-width="1.25"/>
<line x1="324.8" y1="848.6" x2="324.8" y2="880.5" stroke="#33484f" stroke-width="1.25"/>
<line x1="328.3" y1="853.5" x2="328.3" y2="880.5" stroke="#33484f" stroke-width="1.25"/>
<circle cx="282.1" cy="895.1" r="2.2" fill="none" stroke="#33484f" stroke-width="0.9"/>
<path d="M282.1 889.1L280.7 894H283.5Z" fill="none" stroke="#33484f" stroke-width="0.9"/>
<circle cx="282.1" cy="915.3" r="2.2" fill="none" stroke="#33484f" stroke-width="0.9"/>
<path d="M282.1 922L280.7 916.6H283.5Z" fill="none" stroke="#33484f" stroke-width="0.9"/>
<circle cx="282.1" cy="905" r="2.9" fill="none" stroke="#33484f" stroke-width="1"/>
<circle cx="282.1" cy="905" r="1.5" fill="none" stroke="#33484f" stroke-width="0.8"/>
<path d="M283 903.9H301.8Q303.2 905 301.8 906.1H283" fill="none" stroke="#33484f" stroke-width="0.9"/>
<circle cx="302" cy="905" r="1.1" fill="#33484f" stroke="#33484f" stroke-width="0.9"/>
<circle cx="307.8" cy="905.2" r="1.9" fill="none" stroke="#33484f" stroke-width="1.3"/>
<g transform="translate(544.2 1046.5) rotate(-6.9)">
<rect x="-27.3" y="-31" width="54.6" height="62" fill="none" stroke="#33484f" stroke-width="1"/>
<rect x="-24.6" y="-28.3" width="49.2" height="47.6" fill="none" stroke="#33484f" stroke-width="1"/>
<circle cx="-11.2" cy="-16.3" r="7.4" fill="none" stroke="#33484f" stroke-width="1"/>
<circle cx="11" cy="-15.7" r="9.6" fill="none" stroke="#33484f" stroke-width="1"/>
<circle cx="-10.4" cy="6.9" r="9.7" fill="none" stroke="#33484f" stroke-width="1"/>
<circle cx="11.6" cy="6.9" r="7.2" fill="none" stroke="#33484f" stroke-width="1"/>
<circle cx="-18" cy="25.4" r="2.5" fill="none" stroke="#33484f" stroke-width="1"/>
<circle cx="-9.9" cy="25.4" r="2.5" fill="none" stroke="#33484f" stroke-width="1"/>
<circle cx="-1.8" cy="25.4" r="2.5" fill="none" stroke="#33484f" stroke-width="1"/>
<circle cx="6.3" cy="25.4" r="2.5" fill="none" stroke="#33484f" stroke-width="1"/>
</g>
<rect x="1749" y="775.9" width="99.7" height="65.6" fill="none" stroke="#808688" stroke-width="1.1"/>
<rect x="1757.1" y="778.6" width="85.9" height="59.3" rx="3" fill="none" stroke="#33484f" stroke-width="1"/>
<rect x="1762.7" y="789.4" width="36.3" height="43.1" rx="3.5" fill="none" stroke="#33484f" stroke-width="1"/>
<line x1="1805.3" y1="789.4" x2="1833" y2="789.4" stroke="#33484f" stroke-width="1.1"/>
<line x1="1805.3" y1="792.9" x2="1837.2" y2="792.9" stroke="#33484f" stroke-width="1.1"/>
<line x1="1805.3" y1="796.4" x2="1837.2" y2="796.4" stroke="#33484f" stroke-width="1.1"/>
<line x1="1805.3" y1="799.8" x2="1837.2" y2="799.8" stroke="#33484f" stroke-width="1.1"/>
<line x1="1805.3" y1="803.3" x2="1837.2" y2="803.3" stroke="#33484f" stroke-width="1.1"/>
<line x1="1805.3" y1="806.8" x2="1837.2" y2="806.8" stroke="#33484f" stroke-width="1.1"/>
<line x1="1805.3" y1="810.2" x2="1837.2" y2="810.2" stroke="#33484f" stroke-width="1.1"/>
<line x1="1805.3" y1="813.7" x2="1837.2" y2="813.7" stroke="#33484f" stroke-width="1.1"/>
<line x1="1805.3" y1="817.2" x2="1837.2" y2="817.2" stroke="#33484f" stroke-width="1.1"/>
<line x1="1805.3" y1="820.7" x2="1837.2" y2="820.7" stroke="#33484f" stroke-width="1.1"/>
<line x1="1805.3" y1="824.1" x2="1837.2" y2="824.1" stroke="#33484f" stroke-width="1.1"/>
<line x1="1805.3" y1="827.6" x2="1837.2" y2="827.6" stroke="#33484f" stroke-width="1.1"/>
<line x1="1805.3" y1="831.1" x2="1833" y2="831.1" stroke="#33484f" stroke-width="1.1"/>
<circle cx="1768.4" cy="784.9" r="1.7" fill="none" stroke="#33484f" stroke-width="0.9"/>
<line x1="1764.2" y1="784.9" x2="1772.6" y2="784.9" stroke="#33484f" stroke-width="1.6"/>
<circle cx="1792.7" cy="784.9" r="1.7" fill="none" stroke="#33484f" stroke-width="0.9"/>
<line x1="1788.5" y1="784.9" x2="1796.9" y2="784.9" stroke="#33484f" stroke-width="1.6"/>
<circle cx="1780.7" cy="784.9" r="2.7" fill="none" stroke="#33484f" stroke-width="1"/>
<circle cx="1780.7" cy="784.9" r="1.2" fill="none" stroke="#33484f" stroke-width="0.8"/>
<path d="M1779.7 786V805.2H1781.7V786" fill="none" stroke="#33484f" stroke-width="0.9"/>
<circle cx="1780.7" cy="805.6" r="1.3" fill="#33484f" stroke="#33484f" stroke-width="0.9"/>
<circle cx="1780.7" cy="810.6" r="2" fill="none" stroke="#33484f" stroke-width="1.1"/>
<g transform="translate(1939.3 841.3) rotate(82) translate(-122 -776.4)">
<path d="M101.7 776.4L98.5 781Q97.6 785.6 104 786.4Q122 784.7 140.3 786.2Q146.6 785.4 145.7 781L142.4 776.4" fill="none" stroke="#33484f" stroke-width="1"/>
<path d="M105 786.5Q103.4 800 103.3 813C103.2 832 112 843.8 122 843.8C132.2 843.8 141 832 140.9 813Q140.8 800 138.9 786.2" fill="none" stroke="#33484f" stroke-width="1.15"/>
<path d="M103.9 806.5Q105.6 799.5 110.1 794.1H133.5Q138.4 799.5 140.3 806.5" fill="none" stroke="#33484f" stroke-width="1"/>
<circle cx="122.1" cy="810.8" r="2.1" fill="none" stroke="#33484f" stroke-width="1"/>
<ellipse cx="122.1" cy="780.4" rx="1.8" ry="1" fill="#8a9496" stroke="#33484f" stroke-width="0.7"/>
</g>
<path d="M1777.4 966.7V893.1H1919.5" fill="none" stroke="#808688" stroke-width="1.2"/>
<path d="M1814 899.3H1907.5Q1915.7 899.3 1915.7 907.5V952.4Q1915.7 960.6 1907.5 960.6H1814C1795 960.6 1783.2 947 1783.2 930C1783.2 913 1795 899.3 1814 899.3Z" fill="none" stroke="#5f6b6e" stroke-width="1"/>
<circle cx="1849.5" cy="929.9" r="2.6" fill="none" stroke="#33484f" stroke-width="1"/>
<path d="M1904.5 928.6H1911V931.4H1904.5Z" fill="none" stroke="#33484f" stroke-width="0.9"/>
<ellipse cx="1914.6" cy="929.9" rx="3.2" ry="2.6" fill="#fff" stroke="#33484f" stroke-width="1"/>
<rect x="1872.3" y="884.3" width="45.2" height="37.7" fill="none" stroke="#7a8484" stroke-width="1" stroke-dasharray="3.2 2.2"/>
<line x1="1872.3" y1="884.3" x2="1917.5" y2="922" stroke="#7a8484" stroke-width="1" stroke-dasharray="3.2 2.2"/>
<line x1="1917.5" y1="884.3" x2="1872.3" y2="922" stroke="#7a8484" stroke-width="1" stroke-dasharray="3.2 2.2"/>
<text x="713.5" y="1416.5" font-size="16.5" text-anchor="start" fill="#4a5563" textLength="11.9" lengthAdjust="spacingAndGlyphs">©</text>
<text x="729.1" y="1416.5" font-size="20.5" fill="#5e6b7c" textLength="76.7" lengthAdjust="spacingAndGlyphs">nichecom</text>
<rect x="738.6" y="1402.5" width="4" height="14.6" fill="#fff" opacity="0.72"/>
<line x1="753.4" y1="1397.8" x2="753.4" y2="1406" stroke="#5e6b7c" stroke-width="1.7"/>
<text x="812.2" y="1416.5" font-size="16.8" text-anchor="start" fill="#7d8896" textLength="41.8" lengthAdjust="spacingAndGlyphs">2025.</text>
</svg>
</body></html>
